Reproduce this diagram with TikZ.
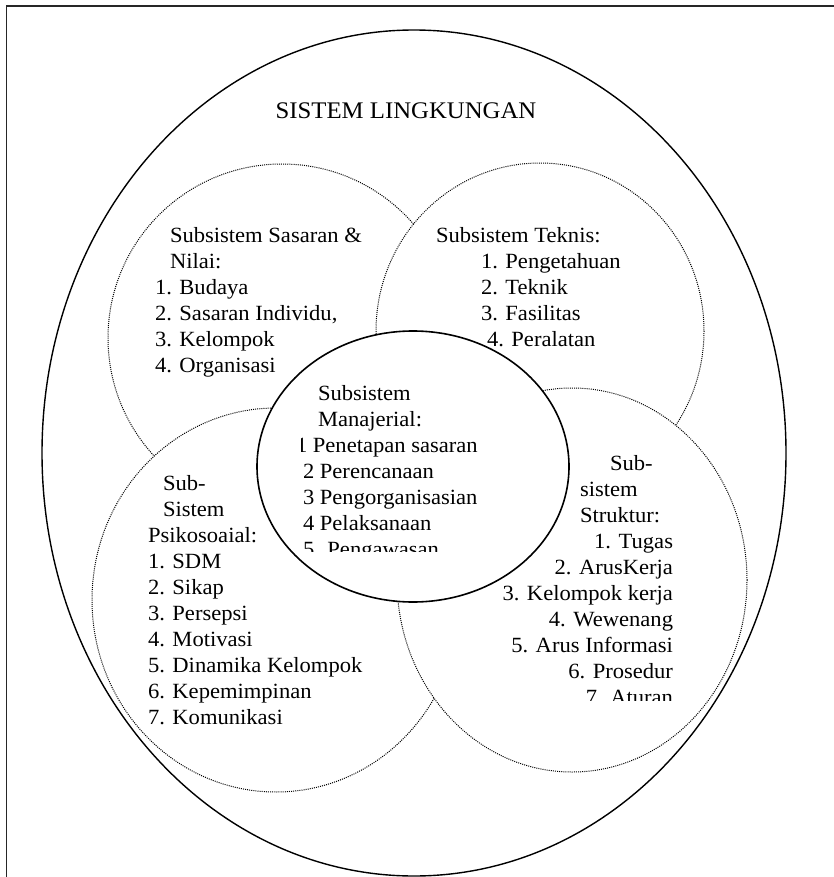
\documentclass[tikz,border=0pt]{standalone}
\usepackage{fontspec}
\setmainfont{Liberation Serif}[FakeStretch=1.04]
\newcommand\txtblk[1]{\vtop{\baselineskip=26pt\lineskiplimit=-\maxdimen\halign{##\hfil\cr#1\crcr}}}
\newcommand\txtblkr[1]{\vtop{\baselineskip=26pt\lineskiplimit=-\maxdimen\halign{\hfil##\cr#1\crcr}}}
\tikzset{
  frameline/.style={line width=1.3pt, black!85},
  outerline/.style={line width=1.4pt},
  dotline/.style={line width=1pt, dash pattern=on 1pt off 1.1pt, fill=white},
  solidline/.style={line width=1.6pt, fill=white},
  txt/.style={inner sep=0pt, outer sep=0pt, anchor=base west, font=\fontsize{21.7}{26}\selectfont},
  txtr/.style={txt, anchor=base east},
  titletxt/.style={inner sep=0pt, anchor=base, font=\fontsize{23.8}{26}\selectfont}
}
\begin{document}
\begin{tikzpicture}[x=1pt,y=-1pt]
\useasboundingbox (0,0) rectangle (833,877);
% partial frame
\draw[frameline] (6.5,880) -- (6.5,6) -- (840,6);
% outer system
\draw[outerline] (414,453) ellipse [x radius=372, y radius=423];
% subsystems (later ones cover earlier ones)
\draw[dotline] (282,338) circle [radius=174];
\draw[dotline] (540,331) ellipse [x radius=164, y radius=168];
\draw[dotline] (276,600) ellipse [x radius=184, y radius=192];
\draw[dotline] (572,580) ellipse [x radius=175, y radius=192];
\draw[solidline] (413,466.5) ellipse [x radius=156, y radius=135.5];
% texts
\node[titletxt] (title) at (406,119) {SISTEM LINGKUNGAN};
\node[txt] (sasaran) at (155,242) {\txtblk{%
\kern15pt Subsistem Sasaran \&\cr
\kern15pt Nilai:\cr
1. Budaya\cr
2. Sasaran Individu,\cr
3. Kelompok\cr
4. Organisasi}};
\node[txt] (teknis) at (436,242) {\txtblk{%
Subsistem Teknis:\cr
\kern45pt 1. Pengetahuan\cr
\kern45pt 2. Teknik\cr
\kern45pt 3. Fasilitas\cr
\kern51pt 4. Peralatan}};
\begin{scope}
\clip (301,370) rectangle (520,551);
\node[txt] (manaj) at (303,400) {\txtblk{%
\kern15pt Subsistem\cr
\kern15pt Manajerial:\cr
\kern-7pt 1 Penetapan sasaran\cr
2 Perencanaan\cr
3 Pengorganisasian\cr
4 Pelaksanaan\cr
5. Pengawasan}};
\end{scope}
\node[txt] (psiko) at (148,490) {\txtblk{%
\kern15pt Sub-\cr
\kern15pt Sistem\cr
Psikosoaial:\cr
1. SDM\cr
2. Sikap\cr
3. Persepsi\cr
4. Motivasi\cr
5. Dinamika Kelompok\cr
6. Kepemimpinan\cr
7. Komunikasi}};
\node[txt] (strukhead) at (580,470) {\txtblk{%
\kern30pt Sub-\cr
sistem\cr
Struktur:}};
\begin{scope}
\clip (480,520) rectangle (700,700);
\node[txtr] (struklist) at (673,548) {\txtblkr{%
1. Tugas\cr
2. ArusKerja\cr
3. Kelompok kerja\cr
4. Wewenang\cr
5. Arus Informasi\cr
6. Prosedur\cr
7. Aturan}};
\end{scope}
\end{tikzpicture}
\end{document}
